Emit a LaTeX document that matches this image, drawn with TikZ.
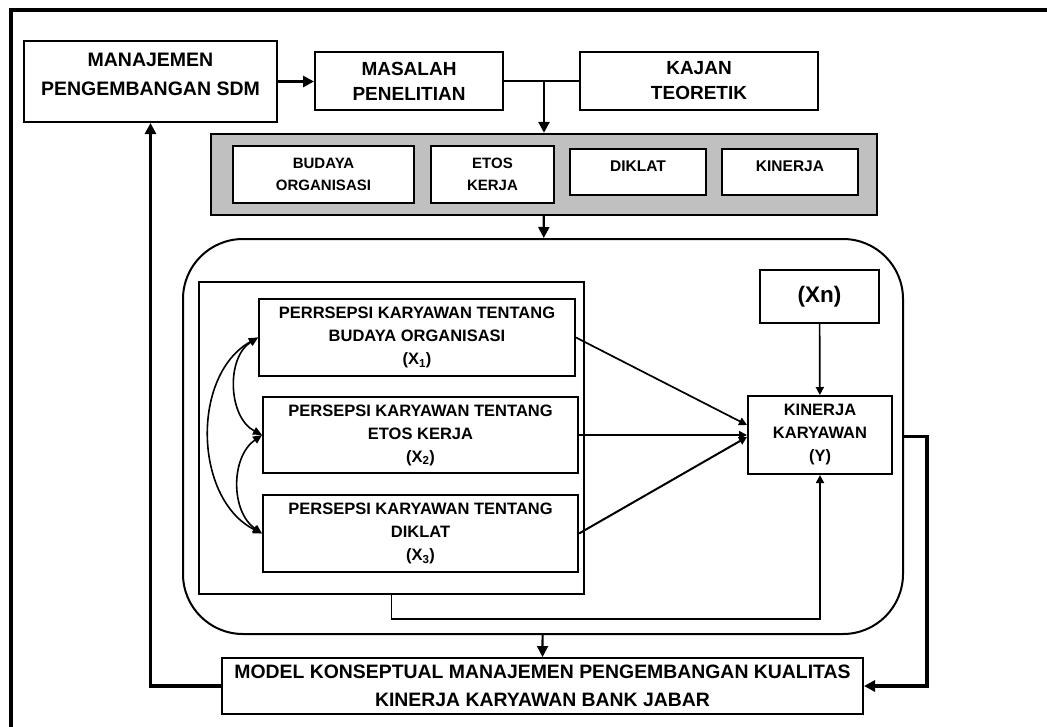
\documentclass[tikz,border=0pt]{standalone}
\usepackage{xcolor}
\usepackage{fontspec}
\setmainfont{Liberation Sans}
\usepackage{tikz}
\usetikzlibrary{shapes, arrows.meta, positioning}

\definecolor{boxgrey}{RGB}{192,192,192}

\begin{document}
\begin{tikzpicture}[x=1pt, y=-1pt, font=\bfseries]
        % Styles
        \tikzstyle{block} = [draw, rectangle, line width=2pt, inner sep=0pt, align=center, fill=white]
        \tikzstyle{arrow} = [-{Triangle[length=11pt, width=11pt]}, line width=2.8pt]
        \tikzstyle{thinarrow} = [-{Triangle[length=8pt, width=8pt]}, line width=1.7pt]
        \tikzstyle{biarrow} = [{Triangle[length=9pt, width=8pt]}-{Triangle[length=9pt, width=8pt]}, line width=1.6pt]

        \useasboundingbox (0,0) rectangle (1047,726);
        \draw [line width=3.2pt] (1065,10) -- (11,10) -- (11,745);

        % Nodes
        \node [block, minimum width=253pt, minimum height=81pt, font=\bfseries\fontsize{19.5}{29}\selectfont] (manajemen) at (150.5,81.5) {MANAJEMEN\\PENGEMBANGAN SDM\\[-15pt]\mbox{}};
        \node [block, minimum width=188pt, minimum height=58pt, font=\bfseries\fontsize{19}{25}\selectfont] (masalah) at (409,81) {MASALAH\\PENELITIAN};
        \node [block, minimum width=238pt, minimum height=58pt, font=\bfseries\fontsize{19}{25}\selectfont] (kajan) at (699,81) {KAJAN\\TEORETIK};

        \node [block, fill=boxgrey, line width=2.4pt, minimum width=666pt, minimum height=81pt] (grey) at (544,174.5) {};
        \node [block, minimum width=181pt, minimum height=57pt, font=\bfseries\fontsize{15}{22}\selectfont] (budaya) at (323.5,174.5) {BUDAYA\\ORGANISASI};
        \node [block, minimum width=123pt, minimum height=57pt, font=\bfseries\fontsize{15}{22}\selectfont] (etos) at (492.5,174.5) {ETOS\\KERJA};
        \node [block, minimum width=136pt, minimum height=46pt, text depth=12pt, font=\bfseries\fontsize{15.5}{22}\selectfont] (diklat) at (638,172) {DIKLAT};
        \node [block, minimum width=136pt, minimum height=46pt, text depth=12pt, font=\bfseries\fontsize{15.5}{22}\selectfont] (kinerja) at (790,172) {KINERJA};

        \node [block, rounded corners=60pt, minimum width=720pt, minimum height=395pt] (outer) at (543,436.5) {};
        \node [block, minimum width=385pt, minimum height=312pt] (inner) at (391.5,438) {};
        \node [block, minimum width=316pt, minimum height=77pt, font=\bfseries\fontsize{16.5}{23}\selectfont] (xsatu) at (417,337.5) {PERRSEPSI KARYAWAN TENTANG\\BUDAYA ORGANISASI\\(X\textsubscript{1})};
        \node [block, minimum width=315pt, minimum height=76pt, font=\bfseries\fontsize{16.5}{23}\selectfont] (xdua) at (420.5,435) {PERSEPSI KARYAWAN TENTANG\\ETOS KERJA\\(X\textsubscript{2})};
        \node [block, minimum width=315pt, minimum height=77pt, font=\bfseries\fontsize{16.5}{23}\selectfont] (xtiga) at (420.5,533.5) {PERSEPSI KARYAWAN TENTANG\\DIKLAT\\(X\textsubscript{3})};
        \node [block, minimum width=119pt, minimum height=53pt, font=\bfseries\fontsize{22.5}{26}\selectfont] (xn) at (819.5,296.5) {(Xn)};
        \node [block, minimum width=144pt, minimum height=78pt, font=\bfseries\fontsize{16.5}{23}\selectfont] (y) at (820,435) {KINERJA\\KARYAWAN\\(Y)};

        \node [block, minimum width=641pt, minimum height=56pt, font=\bfseries\fontsize{19.4}{28}\selectfont] (model) at (542.5,686) {MODEL KONSEPTUAL MANAJEMEN PENGEMBANGAN KUALITAS\\KINERJA KARYAWAN BANK JABAR};

        % Arrows
        \draw [arrow] (manajemen.east) -- (manajemen.east -| masalah.west);
        \draw [line width=2.8pt] (masalah) -- (kajan);
        \draw [arrow] (masalah.east -| grey.north) -- (grey.north);
        \draw [arrow, line width=2.2pt] (grey) -- (outer);
        \draw [arrow, line width=2.2pt] (outer) -- (model);
        \draw [arrow, line width=3.5pt] (model.west) -| (manajemen.south);
        \draw [arrow, line width=3.5pt] (outer.east) -- ++(23,0) |- (model.east);

        \draw [biarrow] (xsatu.west) to[bend right=60] (xdua.west);
        \draw [biarrow] (xdua.west) to[bend right=55] (xtiga.west);
        \draw [biarrow] (xsatu.west) to[bend right=62] (xtiga.west);

        \draw [thinarrow] (xsatu.east) -- ([yshift=10pt]y.west);
        \draw [thinarrow] (xdua.east) -- (y.west);
        \draw [thinarrow, line width=2pt] (xtiga.east) -- ([yshift=-2pt]y.west);
        \draw [thinarrow] (xn) -- (y);
        \draw [thinarrow] (inner.south) -- ++(0,24) -| (y.south);
    \end{tikzpicture}
\end{document}
